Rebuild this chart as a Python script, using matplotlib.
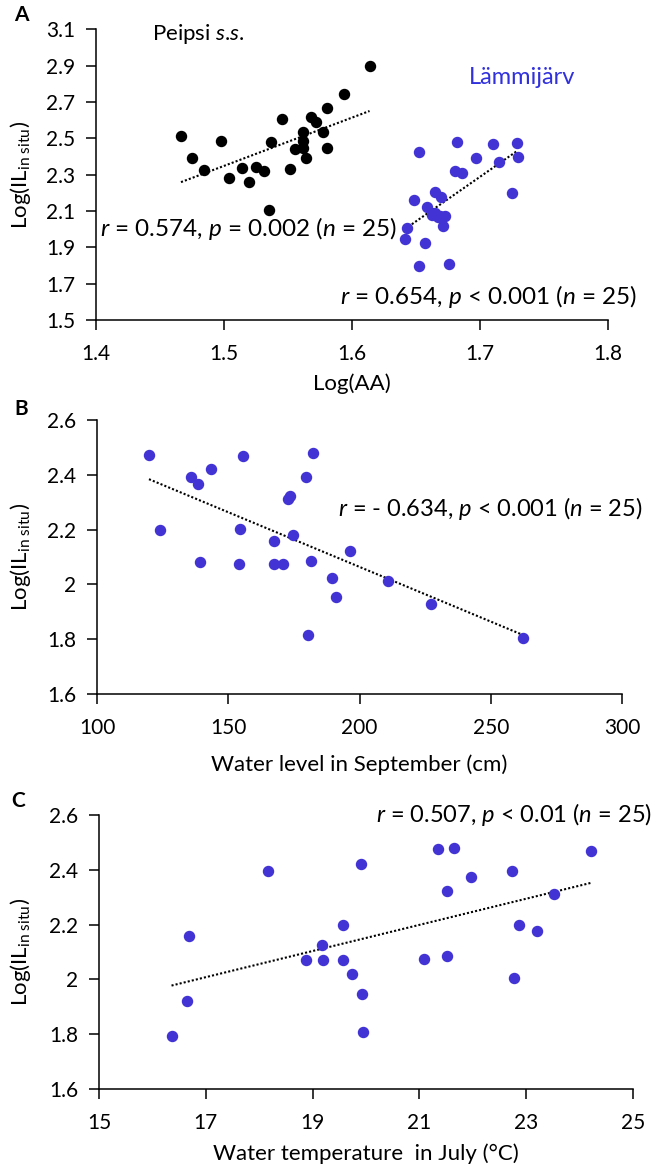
import numpy as np
import matplotlib
matplotlib.use("Agg")
import matplotlib.pyplot as plt

plt.rcParams['font.family'] = ['Lato', 'DejaVu Sans']
plt.rcParams['mathtext.fontset'] = 'custom'
plt.rcParams['mathtext.rm'] = 'Lato'
plt.rcParams['mathtext.it'] = 'Lato:italic'

# panel A: Peipsi s.s.
aa_peipsi = [1.4664, 1.4753, 1.4844, 1.4974, 1.5038, 1.5143, 1.5193, 1.5248, 1.5312,
             1.5370, 1.5351, 1.5453, 1.5514, 1.5558, 1.5614, 1.5614, 1.5619, 1.5639,
             1.5680, 1.5716, 1.5774, 1.5805, 1.5808, 1.5938, 1.6137]
il_peipsi = [2.510, 2.390, 2.326, 2.486, 2.284, 2.339, 2.261, 2.344, 2.320,
             2.477, 2.103, 2.606, 2.333, 2.440, 2.449, 2.486, 2.532, 2.390,
             2.615, 2.588, 2.532, 2.446, 2.665, 2.744, 2.897]

# panel A: Lammijarv
aa_lammi = [1.6523, 1.6818, 1.7104, 1.7289, 1.6969, 1.7294, 1.7146, 1.6805, 1.6857,
            1.7247, 1.6648, 1.6695, 1.6487, 1.6583, 1.6622, 1.6674, 1.6727, 1.6709,
            1.6427, 1.6414, 1.6570, 1.6526, 1.6760, 1.6650, 1.6690]
il_lammi = [2.423, 2.480, 2.470, 2.476, 2.393, 2.395, 2.368, 2.322, 2.311,
            2.197, 2.203, 2.179, 2.159, 2.124, 2.078, 2.069, 2.073, 2.017,
            2.005, 1.946, 1.922, 1.799, 1.807, 2.087, 2.074]

# panel B: water level in September (cm)
wl_sept = [119.8, 155.6, 182.2, 143.3, 135.9, 138.6, 179.7, 172.9, 173.5, 123.9,
           154.6, 167.5, 174.6, 196.3, 139.2, 154.2, 167.3, 170.9, 181.7, 189.5,
           210.8, 191.0, 227.2, 180.5, 262.1]
il_b = [2.472, 2.469, 2.479, 2.423, 2.394, 2.368, 2.393, 2.314, 2.324, 2.199,
        2.202, 2.160, 2.181, 2.124, 2.081, 2.074, 2.074, 2.074, 2.087, 2.023,
        2.012, 1.954, 1.927, 1.817, 1.805]

# panel C: water temperature in July (C)
wt_july = [16.358, 16.645, 16.679, 18.164, 18.873, 19.167, 19.201, 19.569, 19.569,
           19.736, 19.910, 19.930, 19.943, 21.080, 21.355, 21.515, 21.515, 21.649,
           21.963, 22.726, 22.773, 22.860, 23.207, 23.515, 24.211]
il_c = [1.794, 1.922, 2.157, 2.395, 2.069, 2.125, 2.069, 2.198, 2.069,
        2.019, 2.421, 1.946, 1.808, 2.076, 2.475, 2.084, 2.322, 2.481,
        2.372, 2.395, 2.006, 2.200, 2.177, 2.311, 2.469]

blue = '#4233d4'
W, H = 662, 1176
fig = plt.figure(figsize=(W / 100, H / 100), dpi=100)


def make_ax(left, right, top, bottom):
    return fig.add_axes([left / W, 1 - bottom / H, (right - left) / W, (bottom - top) / H])


def trend(ax, x, y):
    x = np.asarray(x)
    m, c = np.polyfit(x, y, 1)
    xs = np.array([x.min(), x.max()])
    ax.plot(xs, c + m * xs, color='black', lw=1.5, linestyle=(0, (1, 1)), zorder=3)


def style(ax, xticks, yticks, xfmt, yfmt, left, right):
    for s in ['top', 'right']:
        ax.spines[s].set_visible(False)
    for s in ['left', 'bottom']:
        ax.spines[s].set_linewidth(1.1)
    ax.set_xlim(xticks[0], xticks[-1])
    ax.set_ylim(yticks[0], yticks[-1])
    ax.set_xticks(xticks)
    ax.set_xticklabels([xfmt(v) for v in xticks])
    ax.set_yticks(yticks)
    ax.set_yticklabels([yfmt(v) for v in yticks])
    ax.tick_params(axis='both', direction='out', length=7, width=1.1, labelsize=15,
                   colors='black')
    ax.tick_params(axis='x', pad=10)
    ax.tick_params(axis='y', pad=8)
    ax.set_ylabel(r'Log(IL$_{\mathrm{in\ situ}}$)', fontsize=16)
    ax.yaxis.set_label_coords((33 - left) / (right - left), 0.5)


# ---- A ----
axA = make_ax(96, 608, 29.3, 320)
axA.scatter(aa_peipsi, il_peipsi, s=52, color='black', zorder=4)
axA.scatter(aa_lammi, il_lammi, s=52, color=blue, zorder=4)
trend(axA, aa_peipsi, il_peipsi)
trend(axA, aa_lammi, il_lammi)
style(axA, [1.4, 1.5, 1.6, 1.7, 1.8], [1.5, 1.7, 1.9, 2.1, 2.3, 2.5, 2.7, 2.9, 3.1],
      lambda v: f'{v:.1f}', lambda v: f'{v:.1f}', 96, 608)
axA.set_xlabel('Log(AA)', fontsize=16)
axA.xaxis.set_label_coords(0.5, -(373 - 320) / 290.7)
axA.text(1.4438, 3.074, r'Peipsi $s$.$s$.', fontsize=16, va='center', ha='left')
axA.text(1.6914, 2.837, 'Lämmijärv', fontsize=17, color='#3030dd', va='center', ha='left')
axA.text(1.4031, 2.006, r'$r$ = 0.574, $p$ = 0.002 ($n$ = 25)', fontsize=17.5,
         va='center', ha='left', clip_on=False, zorder=5)
axA.text(1.8227, 1.627, r'$r$ = 0.654, $p$ < 0.001 ($n$ = 25)', fontsize=17.5,
         va='center', ha='right', clip_on=False)

# ---- B ----
axB = make_ax(97, 622, 420.2, 694)
axB.scatter(wl_sept, il_b, s=52, color=blue, zorder=4)
trend(axB, wl_sept, il_b)
style(axB, [100, 150, 200, 250, 300], [1.6, 1.8, 2.0, 2.2, 2.4, 2.6],
      lambda v: f'{v:g}', lambda v: f'{v:g}', 97, 622)
axB.set_xlabel('Water level in September (cm)', fontsize=16)
axB.xaxis.set_label_coords(0.5, -(754 - 694) / 273.8)
axB.text(191.8, 2.279, r'$r$ = - 0.634, $p$ < 0.001 ($n$ = 25)', fontsize=17,
         va='center', ha='left', clip_on=False)

# ---- C ----
axC = make_ax(99, 633, 815, 1089)
axC.scatter(wt_july, il_c, s=52, color=blue, zorder=4)
trend(axC, wt_july, il_c)
style(axC, [15, 17, 19, 21, 23, 25], [1.6, 1.8, 2.0, 2.2, 2.4, 2.6],
      lambda v: f'{v:g}', lambda v: f'{v:g}', 99, 633)
axC.set_xlabel('Water temperature  in July (°C)', fontsize=16)
axC.xaxis.set_label_coords(0.5, -(1143 - 1089) / 274)
axC.text(20.18, 2.603, r'$r$ = 0.507, $p$ < 0.01 ($n$ = 25)', fontsize=17,
         va='center', ha='left', clip_on=False)

# panel letters
for lab, x, y in [('A', 21, 15), ('B', 21, 409), ('C', 18, 801)]:
    fig.text(x / W, 1 - y / H, lab, fontsize=15, fontweight='bold', ha='center', va='center')

fig.savefig('out.png', dpi=100)
